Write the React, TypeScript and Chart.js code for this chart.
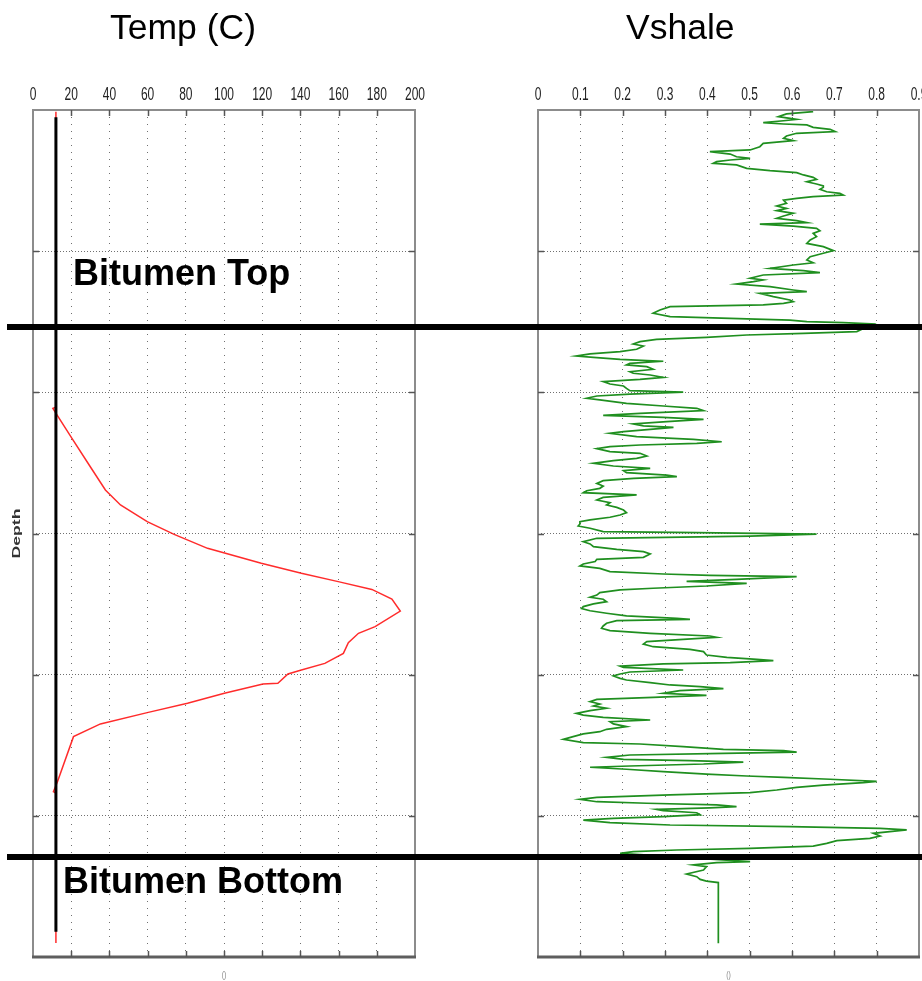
import React, { useEffect, useRef } from 'react';
import { Chart, registerables } from 'chart.js';

Chart.register(...registerables);

// ---------- data ----------
const depthTicks = [0, 100, 200, 300, 400, 500, 600];

const tempTicks = [0, 20, 40, 60, 80, 100, 120, 140, 160, 180, 200];
const tempTickLabels = ['0', '20', '40', '60', '80', '100', '120', '140', '160', '180', '200'];

const vshaleTicks = [0, 0.1, 0.2, 0.3, 0.4, 0.5, 0.6, 0.7, 0.8, 0.9];
const vshaleTickLabels = ['0', '0.1', '0.2', '0.3', '0.4', '0.5', '0.6', '0.7', '0.8', '0.9'];

const bitumenTopDepth = 153.7;
const bitumenBottomDepth = 529.2;

// initial (ambient) temperature line
const initialTempDepth = [5.2, 582.1];
const initialTempValue = [12, 12];

// heated temperature profile
const tempDepth = [1.2, 210.5, 211.3, 216.5, 232.6, 252.7, 269.2, 279.8, 291.6, 300.6, 310.5, 321.1, 328.2, 334.1, 339.6, 346.4, 355.0, 366.0, 370.7, 377.3, 384.9, 392.0, 396.7, 399.5, 406.1, 406.6, 413.2, 420.3, 426.9, 434.9, 443.9, 475.8, 482.9, 483.8, 590.1];
const tempValue = [12, 12, 10.4, 12.8, 20.4, 30.0, 37.9, 45.8, 59.8, 73.9, 91.4, 119.5, 140.5, 159.8, 177.4, 187.9, 192.3, 179.1, 170.4, 165.1, 162.5, 152.8, 140.5, 133.5, 128.2, 120.4, 100.2, 80.9, 59.8, 35.3, 21.2, 12.8, 10.7, 12, 12];

// Vshale log
const vshaleDepth = [
  1.2, 2.8, 4.7, 6.6, 7.6, 9.0, 9.9, 10.6, 12.3, 13.7, 15.3, 16.5, 18.4, 20.1, 21.7, 23.6, 26.0, 28.3, 29.5, 31.2,
  33.1, 34.2, 35.4, 36.6, 37.8, 38.9, 41.3, 43.0, 44.4, 46.0, 47.7, 49.1, 50.8, 52.4, 53.8, 54.8, 56.2, 57.9, 59.0, 60.2,
  61.4, 62.6, 63.8, 66.1, 68.0, 69.7, 71.3, 73.2, 75.1, 76.7, 78.4, 79.8, 80.8, 82.2, 83.8, 85.5, 87.4, 89.7, 92.1, 94.5,
  96.8, 99.6, 101.5, 103.9, 106.3, 108.2, 109.8, 112.2, 113.8, 115.2, 116.9, 119.2, 120.4, 121.6, 123.3, 125.1, 127.5, 128.7, 129.9, 132.2,
  134.6, 135.8, 137.0, 138.1, 139.3, 141.7, 144.0, 146.4, 148.8, 149.9, 150.6, 151.6, 157.0, 158.2, 159.4, 161.0, 162.5, 164.1, 165.8, 167.2,
  169.5, 171.2, 172.8, 174.3, 175.2, 176.6, 178.0, 179.5, 180.6, 181.8, 183.7, 185.4, 186.5, 187.7, 189.4, 190.8, 192.4, 194.1, 195.5, 197.2,
  198.8, 199.8, 201.2, 202.6, 204.2, 205.4, 207.8, 209.7, 211.3, 213.0, 214.9, 216.3, 217.7, 219.1, 220.8, 222.4, 223.8, 224.8, 226.2, 227.9,
  229.0, 231.4, 233.3, 235.0, 236.1, 237.3, 238.5, 239.9, 242.0, 243.2, 245.1, 246.8, 248.4, 250.3, 252.2, 253.8, 255.5, 256.9, 258.6, 259.7,
  260.9, 262.6, 264.5, 266.4, 268.0, 269.7, 271.1, 272.7, 274.4, 276.3, 278.2, 279.8, 281.5, 283.4, 285.2, 286.9, 288.5, 290.4, 291.6, 293.3,
  294.7, 296.3, 298.7, 299.4, 300.4, 301.8, 303.4, 305.8, 307.4, 309.3, 311.2, 312.9, 314.5, 316.9, 318.3, 319.9, 321.6, 323.0, 324.7, 327.0,
  328.7, 329.6, 330.6, 332.5, 333.9, 335.3, 337.2, 338.8, 340.0, 341.9, 343.6, 345.2, 346.6, 348.3, 349.9, 351.8, 353.2, 354.7, 356.5, 358.4,
  360.1, 360.8, 361.7, 363.6, 365.5, 367.2, 368.8, 370.7, 372.6, 373.5, 375.0, 376.6, 378.3, 380.2, 382.1, 383.7, 386.1, 387.7, 389.1, 390.1,
  391.5, 392.4, 393.9, 394.8, 396.7, 398.1, 399.5, 400.9, 402.6, 403.8, 405.7, 407.3, 408.5, 409.9, 411.3, 413.2, 414.6, 416.1, 417.5, 419.1,
  420.8, 422.2, 423.8, 425.5, 427.4, 428.6, 430.2, 432.1, 433.3, 434.9, 436.8, 438.7, 440.4, 442.0, 443.9, 445.8, 448.2, 449.1, 451.0, 452.9,
  453.8, 454.8, 455.7, 456.9, 458.6, 460.0, 460.9, 461.9, 463.3, 464.7, 465.6, 467.0, 468.7, 470.4, 471.8, 472.7, 474.1, 475.6, 476.5, 478.2,
  479.8, 481.7, 483.6, 485.2, 486.9, 488.3, 490.0, 491.1, 492.3, 493.5, 494.4, 495.4, 496.3, 497.8, 499.2, 500.6, 501.8, 503.0, 504.8, 506.5,
  507.7, 508.9, 510.0, 511.2, 512.4, 514.3, 516.0, 517.6, 519.5, 521.4, 523.0, 524.2, 525.4, 526.6, 529.4, 532.5, 533.2, 534.8, 536.0, 538.4,
  541.2, 543.1, 545.0, 546.2, 547.3, 590.3,
];
const vshaleValue = [
  0.650, 0.587, 0.568, 0.611, 0.580, 0.532, 0.580, 0.635, 0.650, 0.690, 0.702, 0.611, 0.587, 0.580, 0.603, 0.532, 0.524, 0.501, 0.406, 0.454,
  0.469, 0.501, 0.454, 0.422, 0.414, 0.469, 0.493, 0.548, 0.611, 0.627, 0.650, 0.658, 0.635, 0.658, 0.674, 0.674, 0.666, 0.682, 0.713, 0.721,
  0.650, 0.611, 0.580, 0.587, 0.564, 0.587, 0.564, 0.603, 0.580, 0.564, 0.611, 0.635, 0.524, 0.603, 0.658, 0.666, 0.650, 0.658, 0.643, 0.635,
  0.674, 0.698, 0.674, 0.643, 0.635, 0.650, 0.603, 0.548, 0.627, 0.666, 0.532, 0.501, 0.532, 0.509, 0.469, 0.548, 0.603, 0.635, 0.524, 0.556,
  0.595, 0.603, 0.580, 0.532, 0.312, 0.288, 0.272, 0.312, 0.595, 0.635, 0.721, 0.792, 0.753, 0.627, 0.493, 0.398, 0.280, 0.241, 0.225, 0.249,
  0.233, 0.194, 0.123, 0.091, 0.131, 0.194, 0.296, 0.217, 0.209, 0.257, 0.272, 0.217, 0.225, 0.265, 0.296, 0.241, 0.154, 0.170, 0.202, 0.209,
  0.217, 0.343, 0.217, 0.139, 0.115, 0.146, 0.209, 0.296, 0.375, 0.391, 0.241, 0.154, 0.296, 0.391, 0.304, 0.225, 0.249, 0.320, 0.265, 0.202,
  0.170, 0.233, 0.367, 0.434, 0.375, 0.241, 0.170, 0.139, 0.170, 0.241, 0.257, 0.233, 0.178, 0.131, 0.178, 0.265, 0.202, 0.209, 0.304, 0.328,
  0.226, 0.154, 0.139, 0.154, 0.146, 0.115, 0.107, 0.233, 0.154, 0.139, 0.170, 0.162, 0.186, 0.202, 0.209, 0.194, 0.170, 0.123, 0.099, 0.099,
  0.095, 0.123, 0.154, 0.375, 0.658, 0.501, 0.139, 0.107, 0.123, 0.131, 0.186, 0.249, 0.265, 0.249, 0.139, 0.135, 0.107, 0.099, 0.146, 0.170,
  0.296, 0.406, 0.611, 0.469, 0.351, 0.493, 0.398, 0.272, 0.194, 0.146, 0.139, 0.123, 0.154, 0.162, 0.131, 0.107, 0.103, 0.123, 0.162, 0.209,
  0.328, 0.359, 0.186, 0.162, 0.154, 0.150, 0.170, 0.265, 0.406, 0.422, 0.343, 0.257, 0.249, 0.272, 0.359, 0.391, 0.398, 0.446, 0.517, 0.556,
  0.454, 0.296, 0.194, 0.202, 0.343, 0.217, 0.194, 0.178, 0.194, 0.209, 0.265, 0.312, 0.383, 0.438, 0.335, 0.296, 0.398, 0.272, 0.139, 0.123,
  0.146, 0.131, 0.162, 0.123, 0.091, 0.107, 0.154, 0.265, 0.170, 0.178, 0.209, 0.162, 0.146, 0.107, 0.083, 0.060, 0.107, 0.241, 0.343, 0.438,
  0.580, 0.611, 0.438, 0.217, 0.162, 0.202, 0.359, 0.485, 0.391, 0.217, 0.123, 0.209, 0.296, 0.398, 0.493, 0.580, 0.690, 0.800, 0.769, 0.674,
  0.611, 0.564, 0.501, 0.312, 0.139, 0.099, 0.139, 0.257, 0.422, 0.469, 0.406, 0.280, 0.296, 0.375, 0.383, 0.296, 0.178, 0.107, 0.170, 0.312,
  0.595, 0.808, 0.871, 0.831, 0.792, 0.808, 0.784, 0.706, 0.682, 0.650, 0.501, 0.328, 0.225, 0.194, 0.343, 0.501, 0.422, 0.367, 0.398, 0.391,
  0.351, 0.375, 0.383, 0.398, 0.426, 0.426,
];

// ---------- helpers ----------
const toPoints = (xs: number[], ys: number[]) => xs.map((x, i) => ({ x, y: ys[i] }));

type OverlayCfg = {
  xTicks: number[];
  xTickLabels: string[];
  title: string;
  titleX: number;
  lineStartX: number;
  leftPanel: boolean;
};

const SANS = '"Liberation Sans", Arial, sans-serif';

const makeOverlay = (cfg: OverlayCfg) => ({
  id: 'wellOverlay',
  afterDraw(chart: any) {
    const { ctx, chartArea: a, scales } = chart;
    const xs = scales.x;
    const ys = scales.y;
    const line = (x1: number, y1: number, x2: number, y2: number) => {
      ctx.beginPath();
      ctx.moveTo(x1, y1);
      ctx.lineTo(x2, y2);
      ctx.stroke();
    };
    ctx.save();
    // frame
    ctx.strokeStyle = '#8c8c8c';
    ctx.lineWidth = 2;
    ctx.beginPath();
    ctx.moveTo(a.left, a.bottom);
    ctx.lineTo(a.left, a.top);
    ctx.lineTo(a.right, a.top);
    ctx.lineTo(a.right, a.bottom);
    ctx.stroke();
    ctx.strokeStyle = '#5e5e5e';
    ctx.lineWidth = 3;
    line(a.left - 1, a.bottom, a.right + 1, a.bottom);

    // inner tick marks
    ctx.strokeStyle = '#555';
    ctx.lineWidth = 1.5;
    cfg.xTicks.forEach((v) => {
      if (v <= xs.min || v >= xs.max) return;
      const px = Math.round(xs.getPixelForValue(v)) + 0.5;
      line(px, a.top, px, a.top + 6);
      line(px, a.bottom - 6, px, a.bottom);
    });
    depthTicks.forEach((v) => {
      if (v <= ys.min || v >= ys.max) return;
      const py = Math.round(ys.getPixelForValue(v)) + 0.5;
      line(a.left, py, a.left + 6, py);
      line(a.right - 6, py, a.right, py);
    });

    // tick labels (tall, narrow look)
    ctx.fillStyle = '#222';
    ctx.font = '12px ' + SANS;
    ctx.textAlign = 'center';
    ctx.textBaseline = 'alphabetic';
    cfg.xTicks.forEach((v, i) => {
      const px = xs.getPixelForValue(v);
      ctx.save();
      ctx.translate(px, a.top - 10);
      ctx.scale(1, 1.5);
      ctx.fillText(cfg.xTickLabels[i], 0, 0);
      ctx.restore();
    });

    // empty axis caption
    ctx.fillStyle = '#888';
    ctx.font = '7px ' + SANS;
    ctx.save();
    ctx.translate((a.left + a.right) / 2, a.bottom + 21);
    ctx.scale(1, 1.4);
    ctx.fillText('()', 0, 0);
    ctx.restore();

    // title
    ctx.fillStyle = '#000';
    ctx.textAlign = 'left';
    ctx.font = '35.5px ' + SANS;
    ctx.fillText(cfg.title, cfg.titleX, 39);

    // depth label
    if (cfg.leftPanel) {
      ctx.save();
      ctx.fillStyle = '#333';
      ctx.font = 'bold 11px ' + SANS;
      ctx.textAlign = 'center';
      ctx.textBaseline = 'middle';
      ctx.translate(17, (a.top + a.bottom) / 2);
      ctx.rotate(-Math.PI / 2);
      ctx.scale(1.6, 1);
      ctx.fillText('Depth', 0, 0);
      ctx.restore();
    }

    // bitumen markers
    const yTop = ys.getPixelForValue(bitumenTopDepth);
    const yBot = ys.getPixelForValue(bitumenBottomDepth);
    ctx.strokeStyle = '#000';
    ctx.lineWidth = 6;
    line(cfg.lineStartX, yTop, chart.width, yTop);
    line(cfg.lineStartX, yBot, chart.width, yBot);

    if (cfg.leftPanel) {
      ctx.fillStyle = '#000';
      ctx.textAlign = 'left';
      ctx.textBaseline = 'alphabetic';
      ctx.font = 'bold 36px ' + SANS;
      ctx.fillText('Bitumen Top', 73, yTop - 42);
      ctx.fillText('Bitumen Bottom', 63, yBot + 36);
    }
    ctx.restore();
  },
});

type PanelProps = {
  datasets: any[];
  xMax: number;
  xTicks: number[];
  xTickLabels: string[];
  yAxisWidth: number;
  rightPad: number;
  title: string;
  titleX: number;
  lineStartX: number;
  leftPanel: boolean;
  width: number;
};

function Panel(p: PanelProps) {
  const ref = useRef<HTMLCanvasElement | null>(null);
  useEffect(() => {
    if (!ref.current) return;
    const chart = new Chart(ref.current, {
      type: 'line',
      data: { datasets: p.datasets },
      options: {
        animation: false,
        responsive: false,
        maintainAspectRatio: false,
        layout: { padding: { left: 0, right: p.rightPad, top: 0, bottom: 24 } },
        plugins: {
          legend: { display: false },
          tooltip: { enabled: false },
          title: { display: false },
        },
        elements: { point: { radius: 0 }, line: { tension: 0 } },
        scales: {
          x: {
            type: 'linear',
            position: 'top',
            min: 0,
            max: p.xMax,
            afterBuildTicks: (s: any) => {
              s.ticks = p.xTicks.map((v) => ({ value: v }));
            },
            afterFit: (s: any) => {
              s.height = 110;
            },
            ticks: { display: false },
            grid: { color: '#707070', lineWidth: 1, drawTicks: false },
            border: { display: false, dash: [1, 6] },
          },
          y: {
            type: 'linear',
            position: 'left',
            min: 0,
            max: 600,
            reverse: true,
            afterBuildTicks: (s: any) => {
              s.ticks = depthTicks.map((v) => ({ value: v }));
            },
            afterFit: (s: any) => {
              s.width = p.yAxisWidth;
            },
            ticks: { display: false },
            grid: { color: '#707070', lineWidth: 1, drawTicks: false },
            border: { display: false, dash: [1, 2] },
          },
        },
      } as any,
      plugins: [
        makeOverlay({
          xTicks: p.xTicks,
          xTickLabels: p.xTickLabels,
          title: p.title,
          titleX: p.titleX,
          lineStartX: p.lineStartX,
          leftPanel: p.leftPanel,
        }),
      ],
    });
    return () => chart.destroy();
  }, []);
  return <canvas ref={ref} width={p.width} height={981} style={{ display: 'block' }} />;
}

export default function App() {
  useEffect(() => {
    document.body.style.margin = '0';
    document.body.style.overflow = 'hidden';
  }, []);

  const tempDatasets = [
    {
      data: toPoints(initialTempValue, initialTempDepth),
      borderColor: '#000000',
      borderWidth: 3,
      pointRadius: 0,
      fill: false,
    },
    {
      data: toPoints(tempValue, tempDepth),
      borderColor: 'rgba(255,20,20,0.9)',
      borderWidth: 1.5,
      pointRadius: 0,
      fill: false,
    },
  ];
  const vshaleDatasets = [
    {
      data: toPoints(vshaleValue, vshaleDepth),
      borderColor: '#1f8f1f',
      borderWidth: 1.7,
      pointRadius: 0,
      fill: false,
    },
  ];

  return (
    <div style={{ position: 'relative', width: 922, height: 981, overflow: 'hidden', background: '#fff' }}>
      <div style={{ position: 'absolute', left: 0, top: 0 }}>
        <Panel
          datasets={tempDatasets}
          xMax={200}
          xTicks={tempTicks}
          xTickLabels={tempTickLabels}
          yAxisWidth={33}
          rightPad={61}
          title="Temp (C)"
          titleX={110}
          lineStartX={7}
          leftPanel={true}
          width={476}
        />
      </div>
      <div style={{ position: 'absolute', left: 476, top: 0 }}>
        <Panel
          datasets={vshaleDatasets}
          xMax={0.9}
          xTicks={vshaleTicks}
          xTickLabels={vshaleTickLabels}
          yAxisWidth={62}
          rightPad={33}
          title="Vshale"
          titleX={150}
          lineStartX={0}
          leftPanel={false}
          width={476}
        />
      </div>
    </div>
  );
}
